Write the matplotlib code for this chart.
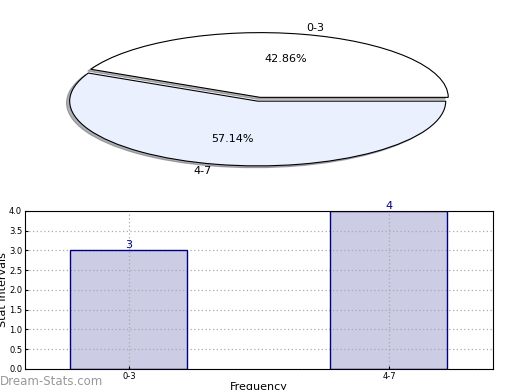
import matplotlib
matplotlib.use('Agg')
import matplotlib.pyplot as plt
import numpy as np

categories = ['0-3', '4-7']
counts = [3, 4]
pie_colors = ['#ffffff', '#eaf0fe']

fig = plt.figure(figsize=(5.2, 3.9), dpi=100)

# pie on top, stretched into an ellipse
ax1 = fig.add_axes([0.046, 0.538, 0.904, 0.415])
wedges, texts, autotexts = ax1.pie(counts, labels=categories, colors=pie_colors,
                                   explode=(0.03, 0.03),
                                   shadow={'ox': -0.012, 'oy': -0.02, 'shade': 0.6},
                                   autopct='%.2f%%', startangle=0, counterclock=True,
                                   wedgeprops={'edgecolor': 'black', 'linewidth': 0.8},
                                   textprops={'fontsize': 8})
ax1.set_aspect('auto')

# bar chart below: fill under the grid, outline above it
ax2 = fig.add_axes([0.048, 0.054, 0.9, 0.405])
x = np.arange(len(categories))
ax2.bar(x, counts, width=0.45, color='#ccccE5', linewidth=0, zorder=1)
ax2.bar(x, counts, width=0.45, fill=False, edgecolor='#000080', linewidth=1, zorder=3)
for xi, c in zip(x, counts):
    ax2.text(xi, c, str(c), ha='center', va='bottom', color='#000080', fontsize=8)
ax2.set_xlim(-0.4, 1.4)
ax2.set_ylim(0, 4)
ax2.set_xticks(x)
ax2.set_xticklabels(categories, fontsize=6)
ax2.set_yticks(np.arange(0, 4.01, 0.5))
ax2.set_yticklabels(['%.1f' % v for v in np.arange(0, 4.01, 0.5)], fontsize=6)
ax2.tick_params(direction='in', length=2, pad=2)
ax2.grid(True, linestyle=(0, (1, 2)), color='#aaaaaa', linewidth=0.9, zorder=2)
for sp in ax2.spines.values():
    sp.set_zorder(4)
ax2.set_xlabel('Frequency', fontsize=8, labelpad=1)
ax2.set_ylabel('Stat Intervals', fontsize=8)
ax2.yaxis.set_label_coords(-0.036, 0.5)

fig.text(0.0, 0.012, 'Dream-Stats.com', color='#999999', fontsize=8.5)

fig.savefig('out.png', dpi=100)
